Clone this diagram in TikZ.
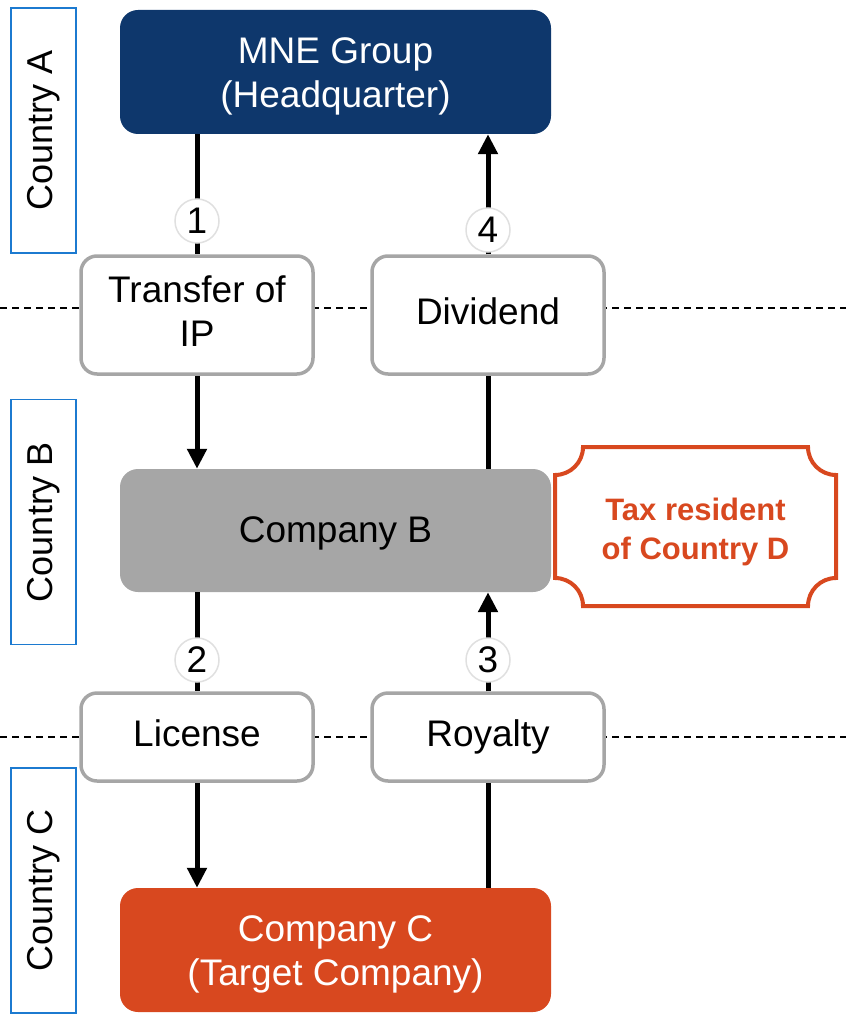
\documentclass[tikz,border=0pt]{standalone}
\usepackage{fontspec}
\setmainfont{Liberation Sans}
\usetikzlibrary{arrows.meta}

\definecolor{mneblue}{RGB}{14,55,108}
\definecolor{boxgray}{RGB}{166,166,166}
\definecolor{rust}{RGB}{216,72,31}
\definecolor{ctyblue}{RGB}{28,122,208}

% strut that lowers a two-line label a little inside its box
\newcommand{\firstlinestrut}{\rule{0pt}{35pt}}

\tikzset{
  every node/.style={font=\fontsize{37}{44}\selectfont, align=center, inner sep=0pt},
  oneline/.style={text height=27pt, text depth=8pt},
  bigbox/.style={rounded corners=18pt, minimum width=431pt, minimum height=123pt},
  flowbox/.style={draw=boxgray, line width=3.5pt, fill=white, rounded corners=16pt,
                  minimum width=232pt},
  ctybox/.style={draw=ctyblue, line width=1.6pt, rotate=90,
                 minimum width=245pt, minimum height=65pt, font=\fontsize{36}{36}\selectfont},
  conn/.style={line width=5pt},
  arr/.style={conn, -{Triangle[length=20pt,width=19pt]}},
  numcirc/.style={circle, fill=white, draw=black!12, line width=1.5pt,
                  minimum size=44pt, font=\fontsize{37}{37}\selectfont},
  sep/.style={dashed, line width=1.4pt, dash pattern=on 7pt off 5pt}
}

\begin{document}
\begin{tikzpicture}[x=1pt, y=1pt]
  \useasboundingbox (0,0) rectangle (846,-1016);

  % country separators
  \coordinate (sepAl) at (0,-308);   \coordinate (sepAr) at (846,-308);
  \coordinate (sepBl) at (0,-737);   \coordinate (sepBr) at (846,-737);
  \draw[sep] (sepAl) -- (sepAr);
  \draw[sep] (sepBl) -- (sepBr);

  % country labels
  \node[ctybox] (ctyA) at (43.5,-130.5) {Country A};
  \node[ctybox] (ctyB) at (43.5,-522)   {Country B};
  \node[ctybox] (ctyC) at (43.5,-890.5) {Country C};

  % entities
  \node[bigbox, fill=mneblue, text=white, minimum height=124pt] (mne) at (335.5,-72)
    {\firstlinestrut MNE Group\\(Headquarter)};
  \node[bigbox, fill=boxgray, text=black, text height=32.5pt, text depth=7.8pt]
    (compB) at (335.5,-530.5) {Company B};
  \node[bigbox, fill=rust, text=white, minimum height=124pt] (compC) at (335.5,-950)
    {\firstlinestrut Company C\\(Target Company)};

  % transactions
  \node[flowbox, minimum height=118pt] (transfer) at (197,-315)
    {Transfer of\\IP\rule[-8pt]{0pt}{8pt}};
  \node[flowbox, oneline, minimum height=118pt] (dividend) at (488,-315) {Dividend};
  \node[flowbox, oneline, minimum height=88pt]  (license)  at (197,-737) {License};
  \node[flowbox, oneline, minimum height=88pt]  (royalty)  at (488,-737) {Royalty};

  % tax residence plaque
  \draw[rust, line width=4pt]
    (583,-447) -- (808,-447) arc[start angle=180, end angle=270, radius=28]
    -- (836,-578) arc[start angle=90, end angle=180, radius=28]
    -- (583,-606) arc[start angle=0, end angle=90, radius=28]
    -- (555,-475) arc[start angle=270, end angle=360, radius=28] -- cycle;
  \node[text=rust, font=\bfseries\fontsize{31}{39}\selectfont] (taxD) at (695.5,-532)
    {Tax resident\\of Country D};

  % flows
  \draw[conn] (transfer.north |- mne.south) -- (transfer.north);
  \draw[arr]  (transfer.south) -- (transfer.south |- compB.north);
  \draw[conn] (compB.north -| dividend.south) -- (dividend.south);
  \draw[arr]  (dividend.north) -- (dividend.north |- mne.south);
  \draw[conn] (license.north |- compB.south) -- (license.north);
  \draw[arr]  (license.south) -- (license.south |- compC.north);
  \draw[conn] (compC.north -| royalty.south) -- (royalty.south);
  \draw[arr]  (royalty.north) -- (royalty.north |- compB.south);

  % step numbers
  \node[numcirc] (n1) at (197,-221) {1};
  \node[numcirc] (n4) at (488,-230) {4};
  \node[numcirc] (n2) at (197,-660) {2};
  \node[numcirc] (n3) at (488,-660) {3};
\end{tikzpicture}
\end{document}
